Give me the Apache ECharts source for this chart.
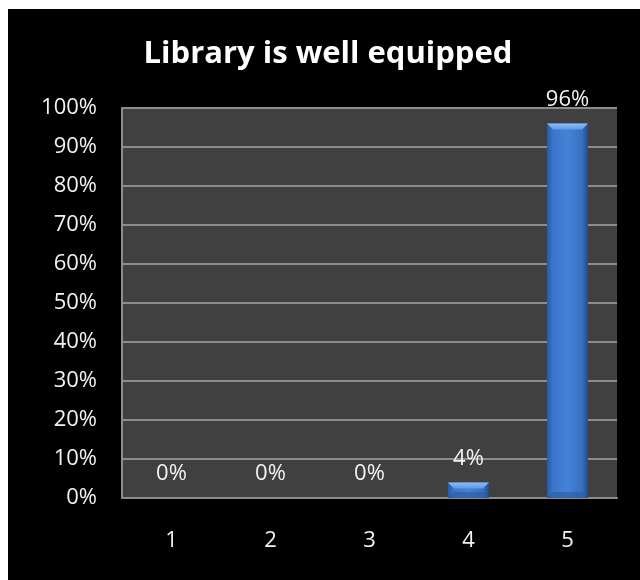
<!DOCTYPE html>
<html>
<head>
<meta charset="utf-8">
<script src="https://cdn.jsdelivr.net/npm/echarts@6/dist/echarts.min.js"></script>
<style>
html,body{margin:0;padding:0;background:#ffffff;}
#chart{width:640px;height:580px;}
</style>
</head>
<body>
<div id="chart"></div>
<script>
const titleText = 'Library is well equipped';
const categories = ['1', '2', '3', '4', '5'];
const values = [0, 0, 0, 4, 96];
const yTicks = { min: 0, max: 100, interval: 10 };

const chart = echarts.init(document.getElementById('chart'), null, { renderer: 'canvas' });
const FONT = '"Open Sans", sans-serif';
const BAR_W = 41, BEVEL = 6;

function bodyGrad() {
  return new echarts.graphic.LinearGradient(0, 0, 1, 0, [
    { offset: 0, color: '#2a5aa0' },
    { offset: 0.15, color: '#3b76cc' },
    { offset: 0.5, color: '#4583d6' },
    { offset: 0.85, color: '#3870c2' },
    { offset: 1, color: '#224c8a' }
  ]);
}

function renderBar(params, api) {
  const v = api.value(1);
  if (!v) return null;
  const top = api.coord([api.value(0), v]);
  const base = api.coord([api.value(0), 0]);
  const x0 = top[0] - BAR_W / 2, x1 = top[0] + BAR_W / 2;
  const y0 = top[1], y1 = base[1];
  const b = Math.min(BEVEL, (y1 - y0) / 2);
  return {
    type: 'group',
    children: [
      { type: 'rect', shape: { x: x0, y: y0, width: BAR_W, height: y1 - y0 },
        style: { fill: bodyGrad() } },
      { type: 'polygon', shape: { points: [[x0, y0], [x1, y0], [x1 - b, y0 + b], [x0 + b, y0 + b]] },
        style: { fill: new echarts.graphic.LinearGradient(0, 0, 0, 1, [
          { offset: 0, color: '#8dbdf5' }, { offset: 1, color: '#5e98e2' }]) } },
      { type: 'polygon', shape: { points: [[x0, y1], [x1, y1], [x1 - b, y1 - b], [x0 + b, y1 - b]] },
        style: { fill: '#2c5a9c', opacity: 0.6 } }
    ]
  };
}

chart.setOption({
  backgroundColor: '#ffffff',
  animation: false,
  graphic: [{
    type: 'rect', z: -10, silent: true,
    shape: { x: 8, y: 9, width: 632, height: 571 },
    style: { fill: '#000000' }
  }],
  title: {
    text: titleText,
    left: 323, top: 34, textAlign: 'center',
    textStyle: { color: '#ffffff', fontFamily: FONT, fontWeight: 'bold', fontSize: 31 }
  },
  grid: {
    left: 122, right: 23, top: 108, bottom: 82,
    show: true, backgroundColor: '#404040', borderWidth: 0
  },
  xAxis: {
    type: 'category',
    data: categories,
    axisLine: { show: true, lineStyle: { color: '#8c8c8c', width: 2 } },
    axisTick: { show: false },
    axisLabel: { color: '#f2f2f2', fontFamily: FONT, fontSize: 22, margin: 32 }
  },
  yAxis: {
    type: 'value',
    min: yTicks.min, max: yTicks.max, interval: yTicks.interval,
    axisLine: { show: true, lineStyle: { color: '#8c8c8c', width: 2 } },
    axisTick: { show: false },
    splitLine: { show: true, lineStyle: { color: '#8c8c8c', width: 2 } },
    axisLabel: { color: '#f2f2f2', fontFamily: FONT, fontSize: 22, margin: 25,
      formatter: v => v + '%' }
  },
  series: [{
    type: 'custom',
    renderItem: renderBar,
    data: categories.map((c, i) => [i, values[i]]),
    encode: { x: 0, y: 1 },
    z: 3
  }, {
    type: 'bar',
    data: values,
    barWidth: BAR_W,
    itemStyle: { color: 'rgba(0,0,0,0)', borderWidth: 0 },
    z: 4,
    label: {
      show: true, position: 'top', distance: 13,
      color: '#f2f2f2', fontFamily: FONT, fontSize: 22,
      formatter: p => p.value + '%'
    }
  }]
});
</script>
</body>
</html>
